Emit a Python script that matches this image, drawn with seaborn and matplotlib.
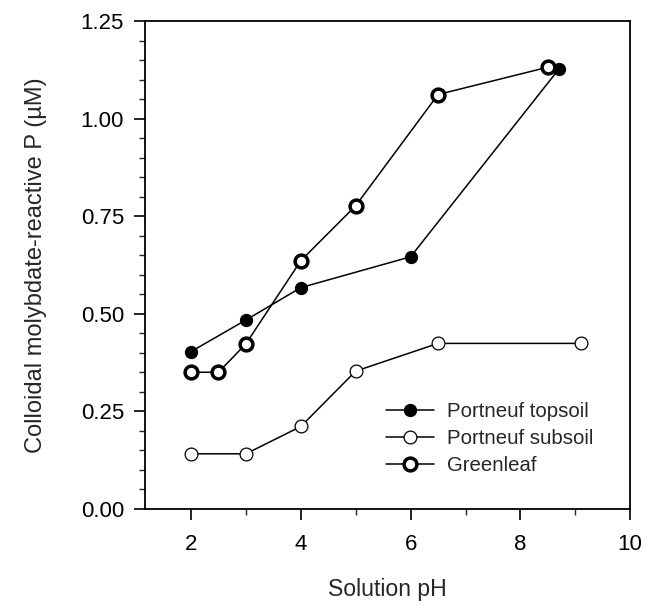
import numpy as np
import pandas as pd
import matplotlib
matplotlib.use("Agg")
import matplotlib.pyplot as plt
import seaborn as sns
from matplotlib.ticker import MultipleLocator

top_ph = [2.0, 3.0, 4.0, 6.0, 8.7]
top_p = [0.403, 0.484, 0.567, 0.646, 1.127]
sub_ph = [2.0, 3.0, 4.0, 5.0, 6.5, 9.1]
sub_p = [0.141, 0.141, 0.211, 0.353, 0.424, 0.424]
green_ph = [2.0, 2.5, 3.0, 4.0, 5.0, 6.5, 8.5]
green_p = [0.350, 0.350, 0.423, 0.636, 0.777, 1.062, 1.132]
labels = ["Portneuf topsoil", "Portneuf subsoil", "Greenleaf"]

sns.set_theme(style="ticks")
plt.rcParams['font.family'] = ['Liberation Sans', 'DejaVu Sans']

fig = plt.figure(figsize=(6.47, 6.05), dpi=100)
ax = fig.add_axes([0.224, 0.159, 0.750, 0.806])

df_top = pd.DataFrame({"pH": top_ph, "P": top_p})
df_sub = pd.DataFrame({"pH": sub_ph, "P": sub_p})
df_gr = pd.DataFrame({"pH": green_ph, "P": green_p})

sns.lineplot(data=df_top, x="pH", y="P", ax=ax, color="black", lw=1.1, sort=False,
             marker="o", markersize=8.8, markerfacecolor="black", markeredgecolor="black",
             label=labels[0])
sns.lineplot(data=df_sub, x="pH", y="P", ax=ax, color="black", lw=1.1, sort=False,
             marker="o", markersize=9.2, markerfacecolor="white", markeredgecolor="black",
             markeredgewidth=0.9, label=labels[1])
sns.lineplot(data=df_gr, x="pH", y="P", ax=ax, color="black", lw=1.1, sort=False,
             marker="o", markersize=9.2, markerfacecolor="white", markeredgecolor="black",
             markeredgewidth=2.5, label=labels[2])

ax.set_xlim(1.16, 10)
ax.set_ylim(0, 1.25)
ax.xaxis.set_major_locator(MultipleLocator(2))
ax.xaxis.set_minor_locator(MultipleLocator(1))
ax.yaxis.set_minor_locator(MultipleLocator(0.05))
ax.set_yticks([0, 0.25, 0.5, 0.75, 1.0, 1.25])
ax.set_yticklabels(["0.00", "0.25", "0.50", "0.75", "1.00", "1.25"])
ax.tick_params(which="major", direction="out", length=8, width=1.2, labelsize=16, colors="black")
ax.tick_params(which="minor", direction="out", length=4, width=1.0)
ax.tick_params(axis="x", pad=10)
ax.tick_params(axis="y", pad=7)
for s in ax.spines.values():
    s.set_linewidth(1.3)
    s.set_color("black")

ax.set_xlabel("Solution pH", fontsize=16.6, labelpad=17)
ax.set_ylabel("Colloidal molybdate-reactive P (\u00b5M)", fontsize=17, labelpad=24)

leg = ax.legend(loc="center left", bbox_to_anchor=(0.497, 0.144), frameon=False, fontsize=14.7,
                handlelength=2.35, handletextpad=0.65, labelspacing=0.4,
                borderpad=0, borderaxespad=0)

fig.savefig("out.png", dpi=100)
